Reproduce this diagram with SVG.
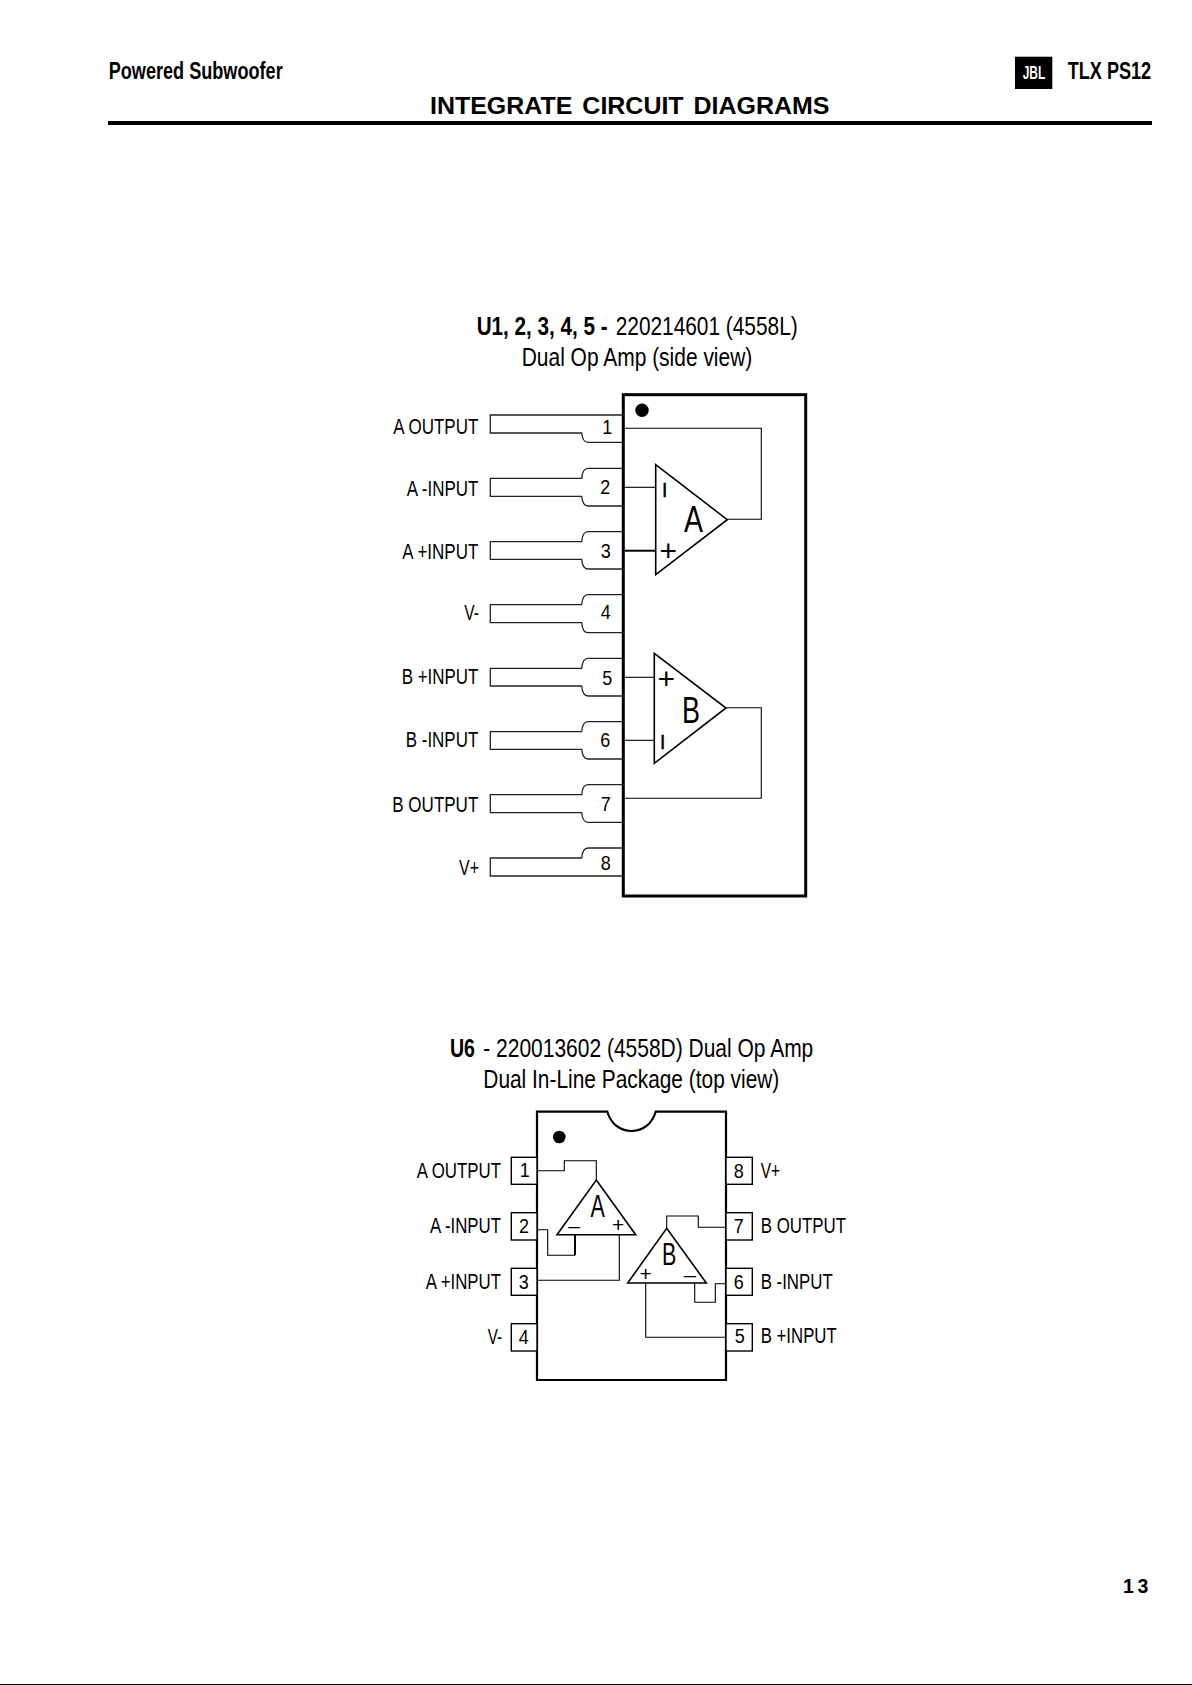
<svg xmlns="http://www.w3.org/2000/svg" width="1192" height="1685" viewBox="0 0 1192 1685">
<style>
text{font-family:"Liberation Sans",Arial,sans-serif;fill:#000}
.b{font-weight:bold}
.t{font-size:26.5px}
.l{font-size:21.8px}
.d{font-size:20.5px}
.g{font-size:37.5px}
.gs{font-size:31px}
.p{font-size:30px}
.i{font-size:21px;stroke:#000;stroke-width:.3}
.ps{font-size:21px}
.m{font-size:16px}
.pin{fill:none;stroke:#222;stroke-width:1.3}
.box{fill:#fff;stroke:#000;stroke-width:1.4}
.chip{fill:#fff;stroke:#000;stroke-width:3}
.chip2{fill:#fff;stroke:#000;stroke-width:2.2}
.tri{fill:none;stroke:#000;stroke-width:1.6}
.w{fill:none;stroke:#000;stroke-width:1.1}
.wt{fill:none;stroke:#000;stroke-width:2}
</style>
<rect width="1192" height="1685" fill="#fff"/>
<g id="header">
<text class="b" x="108.7" y="79" font-size="23.5" textLength="174" lengthAdjust="spacingAndGlyphs">Powered Subwoofer</text>
<rect x="1015" y="56.7" width="37.3" height="32.3" fill="#000"/>
<text class="b" x="1022.7" y="79.3" font-size="18" textLength="22.5" lengthAdjust="spacingAndGlyphs" style="fill:#fff">JBL</text>
<text class="b" x="1067.7" y="79" font-size="23.5" textLength="83.5" lengthAdjust="spacingAndGlyphs">TLX PS12</text>
<text class="b" x="430" y="114.3" font-size="24.5" word-spacing="3" textLength="399.5" lengthAdjust="spacingAndGlyphs">INTEGRATE CIRCUIT DIAGRAMS</text>
<rect x="108" y="121" width="1044" height="4" fill="#000"/>
</g>
<g id="u1-title">
<text class="t b" x="476.7" y="335" textLength="131" lengthAdjust="spacingAndGlyphs">U1, 2, 3, 4, 5 -</text>
<text class="t" x="615.7" y="335" textLength="182" lengthAdjust="spacingAndGlyphs">220214601 (4558L)</text>
<text class="t" x="521.7" y="366" textLength="230.6" lengthAdjust="spacingAndGlyphs">Dual Op Amp (side view)</text>
</g>
<g id="u1-pin-1"><path class="pin" d="M623 415H490.3V433H581.7Q582.5 442.3 588 442.3H623"/><text class="d" x="602.3" y="434" textLength="10" lengthAdjust="spacingAndGlyphs">1</text><text class="l" x="393.3" y="433.5" textLength="85" lengthAdjust="spacingAndGlyphs">A OUTPUT</text></g>
<g id="u1-pin-2"><path class="pin" d="M623 468.3H588Q582.5 468.3 581.7 478.3H490.3V496.3H581.7Q582.5 506 588 506H623"/><text class="d" x="600.3" y="494" textLength="10" lengthAdjust="spacingAndGlyphs">2</text><text class="l" x="406.7" y="496" textLength="71.6" lengthAdjust="spacingAndGlyphs">A -INPUT</text></g>
<g id="u1-pin-3"><path class="pin" d="M623 531.7H588Q582.5 531.7 581.7 541.7H490.3V559.3H581.7Q582.5 569 588 569H623"/><text class="d" x="600.7" y="558" textLength="10" lengthAdjust="spacingAndGlyphs">3</text><text class="l" x="402.3" y="558.7" textLength="76" lengthAdjust="spacingAndGlyphs">A +INPUT</text></g>
<g id="u1-pin-4"><path class="pin" d="M623 594.7H588Q582.5 594.7 581.7 604.7H490.3V622.7H581.7Q582.5 632.7 588 632.7H623"/><text class="d" x="600.7" y="619.3" textLength="10" lengthAdjust="spacingAndGlyphs">4</text><text class="l" x="464.3" y="620" textLength="14.7" lengthAdjust="spacingAndGlyphs">V-</text></g>
<g id="u1-pin-5"><path class="pin" d="M623 658.3H588Q582.5 658.3 581.7 668.3H490.3V686H581.7Q582.5 696 588 696H623"/><text class="d" x="602.3" y="685.3" textLength="10" lengthAdjust="spacingAndGlyphs">5</text><text class="l" x="401.7" y="684" textLength="76.6" lengthAdjust="spacingAndGlyphs">B +INPUT</text></g>
<g id="u1-pin-6"><path class="pin" d="M623 721.7H588Q582.5 721.7 581.7 731.7H490.3V749.3H581.7Q582.5 759 588 759H623"/><text class="d" x="600.3" y="747.3" textLength="10" lengthAdjust="spacingAndGlyphs">6</text><text class="l" x="405.7" y="746.7" textLength="72.6" lengthAdjust="spacingAndGlyphs">B -INPUT</text></g>
<g id="u1-pin-7"><path class="pin" d="M623 784.7H588Q582.5 784.7 581.7 794.7H490.3V812.7H581.7Q582.5 822.3 588 822.3H623"/><text class="d" x="600.7" y="811" textLength="10" lengthAdjust="spacingAndGlyphs">7</text><text class="l" x="392.3" y="811.7" textLength="86" lengthAdjust="spacingAndGlyphs">B OUTPUT</text></g>
<g id="u1-pin-8"><path class="pin" d="M623 848H588Q582.5 848 581.7 858H490.3V876H623"/><text class="d" x="600.7" y="870" textLength="10" lengthAdjust="spacingAndGlyphs">8</text><text class="l" x="459" y="875" textLength="20" lengthAdjust="spacingAndGlyphs">V+</text></g>
<g id="u1-body">
<rect class="chip" x="623.3" y="394.7" width="182.4" height="501.3"/>
<circle cx="642" cy="410.3" r="6.7" fill="#000"/>
</g>
<g id="u1-amp-a">
<path class="tri" d="M655.7 464.7L727.3 519.7L655.7 574.7Z"/>
<text class="g" x="684" y="531.7" textLength="19" lengthAdjust="spacingAndGlyphs">A</text>
<text class="p" x="659.5" y="561.3">+</text>
<text class="i" x="661.8" y="497">I</text>
</g>
<g id="u1-amp-b">
<path class="tri" d="M654.3 653.3L726 708L654.3 763.3Z"/>
<text class="g" x="682" y="723" textLength="18" lengthAdjust="spacingAndGlyphs">B</text>
<text class="p" x="657.6" y="688.6">+</text>
<text class="i" x="659.8" y="749">I</text>
</g>
<g id="u6-title">
<text class="t b" x="450" y="1056.7" textLength="25" lengthAdjust="spacingAndGlyphs">U6</text>
<text class="t" x="483.3" y="1056.7" textLength="330" lengthAdjust="spacingAndGlyphs">- 220013602 (4558D) Dual Op Amp</text>
<text class="t" x="483.3" y="1088.3" textLength="296" lengthAdjust="spacingAndGlyphs">Dual In-Line Package (top view)</text>
</g>
<g id="u6-body">
<path class="chip2" d="M537 1111.7H607.3C611 1124 620 1131 631.5 1131C643 1131 652 1124 655.7 1111.7H726V1380H537Z"/>
<circle cx="559.3" cy="1137" r="6.3" fill="#000"/>
</g>
<g id="u6-pin-1"><rect class="box" x="511.3" y="1157.3" width="25.7" height="27"/><text class="d" x="519.7" y="1176.7" textLength="10" lengthAdjust="spacingAndGlyphs">1</text><text class="l" x="416.7" y="1178.3" textLength="84.3" lengthAdjust="spacingAndGlyphs">A OUTPUT</text></g>
<g id="u6-pin-2"><rect class="box" x="511.3" y="1212.7" width="25.7" height="27.3"/><text class="d" x="519" y="1233.3" textLength="10" lengthAdjust="spacingAndGlyphs">2</text><text class="l" x="430" y="1233.3" textLength="71" lengthAdjust="spacingAndGlyphs">A -INPUT</text></g>
<g id="u6-pin-3"><rect class="box" x="511.3" y="1268.3" width="25.7" height="27"/><text class="d" x="518.7" y="1288.7" textLength="10" lengthAdjust="spacingAndGlyphs">3</text><text class="l" x="425.7" y="1289.3" textLength="75.3" lengthAdjust="spacingAndGlyphs">A +INPUT</text></g>
<g id="u6-pin-4"><rect class="box" x="511.3" y="1323.7" width="25.7" height="27.3"/><text class="d" x="518.7" y="1344.3" textLength="10" lengthAdjust="spacingAndGlyphs">4</text><text class="l" x="487.7" y="1344" textLength="14.3" lengthAdjust="spacingAndGlyphs">V-</text></g>
<g id="u6-pin-8"><rect class="box" x="726" y="1157.3" width="26.3" height="27"/><text class="d" x="733.7" y="1178" textLength="10" lengthAdjust="spacingAndGlyphs">8</text><text class="l" x="760.7" y="1178.3" textLength="19.3" lengthAdjust="spacingAndGlyphs">V+</text></g>
<g id="u6-pin-7"><rect class="box" x="726" y="1212.7" width="26.3" height="27.3"/><text class="d" x="733.7" y="1233.3" textLength="10" lengthAdjust="spacingAndGlyphs">7</text><text class="l" x="760.7" y="1233.3" textLength="85.3" lengthAdjust="spacingAndGlyphs">B OUTPUT</text></g>
<g id="u6-pin-6"><rect class="box" x="726" y="1268.3" width="26.3" height="27"/><text class="d" x="733.7" y="1289" textLength="10" lengthAdjust="spacingAndGlyphs">6</text><text class="l" x="760.7" y="1289.3" textLength="72" lengthAdjust="spacingAndGlyphs">B -INPUT</text></g>
<g id="u6-pin-5"><rect class="box" x="726" y="1323.7" width="26.3" height="27.3"/><text class="d" x="734.7" y="1343.3" textLength="10" lengthAdjust="spacingAndGlyphs">5</text><text class="l" x="760.7" y="1343.3" textLength="76" lengthAdjust="spacingAndGlyphs">B +INPUT</text></g>
<g id="u6-amp-a">
<path class="tri" d="M596.3 1180L635.7 1234.7H557Z"/>
<text class="gs" x="590.5" y="1216.7" textLength="14.3" lengthAdjust="spacingAndGlyphs">A</text>
<text class="m" x="568.3" y="1231.6" textLength="11.7" lengthAdjust="spacingAndGlyphs">–</text>
<text class="ps" x="612" y="1232">+</text>
</g>
<g id="u6-amp-b">
<path class="tri" d="M666.7 1228.3L706.3 1283H627.7Z"/>
<text class="gs" x="662" y="1265" textLength="14.3" lengthAdjust="spacingAndGlyphs">B</text>
<text class="ps" x="639.6" y="1281">+</text>
<text class="m" x="683.7" y="1280.6" textLength="12.3" lengthAdjust="spacingAndGlyphs">–</text>
</g>
<g id="connectors">
<path class="w" d="M624.8 428.3H761.3V519.3H727.3"/>
<path class="w" d="M624.8 487.3H655.7"/>
<path class="wt" d="M624.8 550.7H655.7"/>
<path class="w" d="M624.8 677.3H654.3"/>
<path class="w" d="M624.8 740.3H654.3"/>
<path class="w" d="M726 707.7H761.3V798.3H624.8"/>
<path class="w" d="M538 1170.7H564.3V1160.7H596.3V1180"/>
<path class="w" d="M538 1229.7H547.7V1255.3H575"/>
<path class="wt" d="M575 1255.3V1234.7"/>
<path class="w" d="M538 1280.3H619.3V1234.7"/>
<path class="w" d="M666.7 1228.3V1216H698.3V1227.3H725"/>
<path class="w" d="M725 1283.7H715.3V1302.3H694.7V1283"/>
<path class="w" d="M725 1337.3H645.7V1283"/>
</g>
<g id="footer">
<text class="b" x="1123 1137.5" y="1592.7" font-size="19.5">13</text>
<rect x="0" y="1684" width="1192" height="1" fill="#000"/>
</g>
</svg>
